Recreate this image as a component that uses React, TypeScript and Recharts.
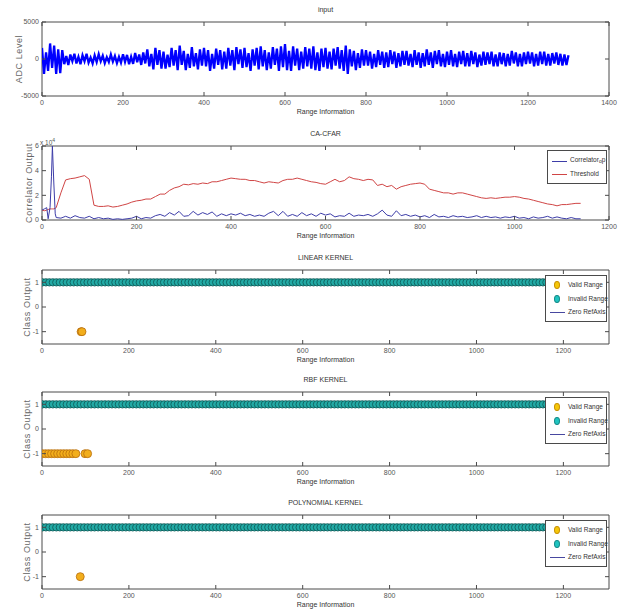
import React from 'react';
import {
  LineChart,
  ScatterChart,
  Line,
  Scatter,
  XAxis,
  YAxis,
  ReferenceArea,
} from 'recharts';

// ---- data ----

// raw ADC samples, one every 5 range bins
const inputStep = 5;
const inputSamples = [
  1500, -2000, 900, -1600, 2100, -1200, 1800, -2000, 1300, -1900,
  1200, -700, 400, -800, 600, -300, 700, -600, 300, -700,
  500, -300, 700, -500, 200, -600, 500, -400, 650, -300,
  450, -550, 250, -400, 600, -350, 400, -550, 300, -500,
  650, -400, 550, -700, 300, -650, 800, -450, 600, -800,
  900, -600, 1300, -1000, 700, -1400, 1500, -800, 1200, -1300,
  1000, -1300, 600, -1100, 1500, -900, 1200, -1500, 1800, -800,
  1100, -1500, 700, -1200, 1600, -1000, 800, -1400, 1300, -900,
  1500, -1000, 1200, -1600, 700, -1300, 1400, -800, 1200, -1400,
  1000, -1300, 1500, -900, 1200, -1500, 1600, -700, 1300, -1200,
  1500, -1100, 800, -1600, 1300, -900, 1500, -1400, 1700, -1000,
  1200, -1500, 900, -1300, 1600, -800, 1400, -1600, 1700, -1100,
  2000, -1500, 1100, -1600, 1700, -900, 1400, -1500, 1000, -1300,
  1600, -1000, 1400, -1300, 1700, -1500, 900, -1600, 1400, -1100,
  1500, -1300, 1000, -1400, 1400, -900, 1600, -1300, 1200, -1600,
  1800, -2000, 1300, -1000, 1100, -1500, 800, -1200, 1300, -900,
  1200, -900, 1000, -1300, 700, -1100, 1200, -800, 1000, -1200,
  900, -1100, 1200, -700, 1000, -1200, 800, -1000, 1100, -800,
  1100, -900, 700, -1100, 1200, -800, 900, -1200, 800, -1000,
  1300, -800, 900, -1200, 1100, -700, 1200, -1000, 700, -1100,
  1000, -800, 1200, -1000, 700, -1100, 1000, -700, 1100, -1000,
  800, -1000, 1100, -700, 900, -1100, 600, -900, 1000, -800,
  900, -700, 1000, -1000, 600, -1000, 900, -700, 800, -1000,
  700, -900, 1100, -600, 900, -1000, 700, -1000, 900, -700,
  1000, -600, 900, -1000, 700, -900, 1000, -700, 1000, -900,
  700, -900, 800, -600, 900, -800, 700, -900, 600, -800,
  500,
];

// CA-CFAR output (units of 1e4)
const cfarRange = [
  0, 5, 10, 13, 17, 20, 22, 25, 28, 30,
  40, 50, 60, 70, 80, 90, 100, 110, 120, 130,
  140, 150, 160, 170, 180, 190, 200, 210, 220, 230,
  240, 250, 260, 270, 280, 290, 300, 310, 320, 330,
  340, 350, 360, 370, 380, 390, 400, 410, 420, 430,
  440, 450, 460, 470, 480, 490, 500, 510, 520, 530,
  540, 550, 560, 570, 580, 590, 600, 610, 620, 630,
  640, 650, 660, 670, 680, 690, 700, 710, 720, 730,
  740, 750, 760, 770, 780, 790, 800, 810, 820, 830,
  840, 850, 860, 870, 880, 890, 900, 910, 920, 930,
  940, 950, 960, 970, 980, 990, 1000, 1010, 1020, 1030,
  1040, 1050, 1060, 1070, 1080, 1090, 1100, 1110, 1120, 1130,
  1140,
];
const correlatorOut = [
  0.8, 0.9, 1.0, 0.1, 1.0, 3.5, 6.0, 3.0, 0.5, 0.2,
  0.15, 0.3, 0.15, 0.35, 0.2, 0.15, 0.3, 0.1, 0.2, 0.1,
  0.15, 0.05, 0.1, 0.05, 0.1, 0.15, 0.3, 0.1, 0.2, 0.15,
  0.35, 0.45, 0.3, 0.6, 0.4, 0.7, 0.3, 0.35, 0.7, 0.4,
  0.6, 0.45, 0.65, 0.3, 0.5, 0.35, 0.5, 0.4, 0.55, 0.35,
  0.45, 0.3, 0.4, 0.3, 0.55, 0.7, 0.35, 0.7, 0.3, 0.45,
  0.3, 0.6, 0.35, 0.5, 0.3, 0.55, 0.4, 0.5, 0.25, 0.35,
  0.3, 0.55, 0.3, 0.4, 0.35, 0.45, 0.3, 0.5, 0.8, 0.4,
  0.3, 0.75, 0.35, 0.45, 0.3, 0.4, 0.25, 0.35, 0.2, 0.45,
  0.25, 0.3, 0.2, 0.35, 0.25, 0.3, 0.2, 0.25, 0.35, 0.2,
  0.3, 0.2, 0.25, 0.15, 0.25, 0.2, 0.3, 0.15, 0.2, 0.1,
  0.25, 0.15, 0.2, 0.3, 0.15, 0.25, 0.15, 0.1, 0.2, 0.1,
  0.1,
];
const thresholdOut = [
  0.8, 0.75, 0.8, 0.85, 0.9, 0.9, 0.9, 0.9, 0.95, 1.0,
  2.2, 3.25, 3.35, 3.4, 3.5, 3.6, 3.3, 1.2, 1.1, 1.1,
  1.15, 1.05, 1.1, 1.2, 1.3, 1.45, 1.55, 1.6, 1.7, 1.7,
  1.9, 2.1, 2.1, 2.4, 2.6, 2.7, 2.9, 2.85, 2.95, 2.9,
  3.0, 2.95, 3.1, 3.1, 3.2, 3.3, 3.4, 3.35, 3.3, 3.3,
  3.2, 3.2, 3.1, 3.0, 3.1, 3.05, 3.0, 3.2, 3.3, 3.3,
  3.4, 3.3, 3.2, 3.1, 3.05, 2.95, 2.9, 3.1, 3.3, 3.1,
  3.2, 3.5, 3.35, 3.3, 3.2, 3.3, 3.25, 2.8, 2.9, 2.7,
  2.8, 2.5, 2.7, 2.8, 2.9, 2.95, 3.0, 2.9, 2.5, 2.4,
  2.3, 2.2, 2.2, 2.1, 2.2, 2.2, 2.1, 2.0, 1.9, 1.8,
  1.75, 1.8, 1.75, 1.8, 1.85, 1.85, 1.9, 1.85, 1.75, 1.7,
  1.6, 1.5, 1.4, 1.3, 1.25, 1.15, 1.25, 1.25, 1.3, 1.35,
  1.35,
];

// classifier outputs
const invalidClass = 1;
const validClass = -1;
const invalidFirstBin = 1;
const invalidLastBin = 1165;
const binStep = 8;
const linearValidBins = [90, 92];
const rbfValidBins = [1, 8, 15, 22, 29, 36, 43, 50, 57, 64, 71, 78, 99, 105];
const polyValidBins = [88];

// ticks
const inputTicks = [0, 200, 400, 600, 800, 1000, 1200, 1400];
const cfarTicks = [0, 200, 400, 600, 800, 1000, 1200];
const kernelTicks = [0, 200, 400, 600, 800, 1000, 1200];
const adcTicks = [-5000, 0, 5000];
const corrTicks = [0, 2, 4, 6];
const classTicks = [-1, 0, 1];

// ---- layout ----
const W = 626;
const MT = 6;
const PLOT_H = 74;
const PLOT_W = 567;
const PLOT_L = 42;
const X_AX_H = 14;
const X_MARGIN = 4;
const Y_MARGIN = 3;
const TICK_IN = 4;
const CHART_H = MT + PLOT_H + X_AX_H;
const MARGIN = { top: MT, right: W - PLOT_L - PLOT_W, left: 12, bottom: 0 };
const panelTops = [22, 146, 270, 392, 515];

const FONT = '"Liberation Sans", Arial, sans-serif';
const AXIS = '#4a4a4a';
const TXT = '#555';

const inputData = inputSamples.map((v, i) => ({ range: i * inputStep, adc: v }));
const cfarData = cfarRange.map((r, i) => ({
  range: r,
  correlator: correlatorOut[i],
  threshold: thresholdOut[i],
}));

const invalidBins: number[] = [];
for (let b = invalidFirstBin; b <= invalidLastBin; b += binStep) invalidBins.push(b);
const invalidData = invalidBins.map((b) => ({ range: b, cls: invalidClass }));
const toValid = (bins: number[]) => bins.map((b) => ({ range: b, cls: validClass }));

const XTick = (props: any) => {
  const { x, y, payload } = props;
  const base = y - X_MARGIN;
  return (
    <g>
      <line x1={x} x2={x} y1={base} y2={base - TICK_IN} stroke={AXIS} />
      <line x1={x} x2={x} y1={base - PLOT_H} y2={base - PLOT_H + TICK_IN} stroke={AXIS} />
      <text x={x} y={y} dy="0.71em" textAnchor="middle" fontSize={7} fontFamily={FONT} fill={TXT}>
        {payload.value}
      </text>
    </g>
  );
};

const YTick = (props: any) => {
  const { x, y, payload } = props;
  const base = x + Y_MARGIN;
  return (
    <g>
      <line x1={base} x2={base + TICK_IN} y1={y} y2={y} stroke={AXIS} />
      <line x1={base + PLOT_W - TICK_IN} x2={base + PLOT_W} y1={y} y2={y} stroke={AXIS} />
      <text x={x} y={y} dy="0.355em" textAnchor="end" fontSize={7} fontFamily={FONT} fill={TXT}>
        {payload.value}
      </text>
    </g>
  );
};

const InvalidDot = (props: any) => (
  <circle cx={props.cx} cy={props.cy} r={3.7} fill="#22aaa5" stroke="#0d5553" strokeWidth={0.8} />
);
const ValidDot = (props: any) => (
  <circle cx={props.cx} cy={props.cy} r={4} fill="#f2ae1c" stroke="#b86d0e" strokeWidth={0.8} />
);

const Title = ({ top, text }: { top: number; text: string }) => (
  <div
    style={{
      position: 'absolute', left: PLOT_L, width: PLOT_W, top: top - 18, height: 12,
      textAlign: 'center', fontSize: 7, lineHeight: '12px', fontFamily: FONT, color: '#333',
    }}
  >
    {text}
  </div>
);

const XLabel = ({ top }: { top: number }) => (
  <div
    style={{
      position: 'absolute', left: PLOT_L, width: PLOT_W, top: top + PLOT_H + 10, height: 12,
      textAlign: 'center', fontSize: 7, lineHeight: '12px', fontFamily: FONT, color: '#333',
    }}
  >
    Range Information
  </div>
);

const YLabel = ({ top, cx, text }: { top: number; cx: number; text: string }) => (
  <div
    style={{
      position: 'absolute', left: cx - 50, top: top + PLOT_H / 2 - 6, width: 100, height: 12,
      textAlign: 'center', fontSize: 9, lineHeight: '12px', fontFamily: FONT, color: '#666',
      letterSpacing: 0.6, transform: 'rotate(-90deg)',
    }}
  >
    {text}
  </div>
);

const legendText: React.CSSProperties = {
  position: 'absolute', left: 22, fontSize: 6.5, lineHeight: '10px', fontFamily: FONT, color: '#333',
  whiteSpace: 'nowrap',
};

const CfarLegend = ({ top }: { top: number }) => (
  <div
    style={{
      position: 'absolute', left: 547, top: top + 4, width: 60, height: 34,
      border: `1px solid ${AXIS}`, background: '#fff', boxSizing: 'border-box',
    }}
  >
    <div style={{ position: 'absolute', left: 4, top: 10, width: 15, height: 1, background: '#3d3da8' }} />
    <div style={{ ...legendText, top: 4 }}>
      Correlator<sub style={{ fontSize: 5, verticalAlign: -1 }}>o</sub>p
    </div>
    <div style={{ position: 'absolute', left: 4, top: 23, width: 15, height: 1, background: '#d04545' }} />
    <div style={{ ...legendText, top: 18 }}>Threshold</div>
  </div>
);

const KernelLegend = ({ top }: { top: number }) => (
  <div
    style={{
      position: 'absolute', left: 545, top: top + 5, width: 62, height: 47,
      border: `1px solid ${AXIS}`, background: '#fff', boxSizing: 'border-box',
    }}
  >
    <div
      style={{
        position: 'absolute', left: 8, top: 5, width: 6, height: 8, borderRadius: '50%',
        background: '#f5c70a', border: '1px solid #c89000', boxSizing: 'border-box',
      }}
    />
    <div style={{ ...legendText, top: 4 }}>Valid Range</div>
    <div
      style={{
        position: 'absolute', left: 8, top: 19, width: 6, height: 8, borderRadius: '50%',
        background: '#20c4c0', border: '1px solid #138a88', boxSizing: 'border-box',
      }}
    />
    <div style={{ ...legendText, top: 18 }}>Invalid Range</div>
    <div style={{ position: 'absolute', left: 4, top: 36, width: 15, height: 1, background: '#4848a0' }} />
    <div style={{ ...legendText, top: 31 }}>Zero RefAxis</div>
  </div>
);

const KernelPanel = ({ top, title, valid }: { top: number; title: string; valid: number[] }) => (
  <>
    <Title top={top} text={title} />
    <div style={{ position: 'absolute', left: 0, top: top - MT }}>
      <ScatterChart width={W} height={CHART_H} margin={MARGIN}>
        <XAxis
          type="number" dataKey="range" domain={[0, 1305]} ticks={kernelTicks} interval={0}
          allowDataOverflow axisLine={false} tickLine={false} tickSize={0} tickMargin={X_MARGIN}
          height={X_AX_H} tick={<XTick />}
        />
        <YAxis
          type="number" dataKey="cls" domain={[-1.5, 1.5]} ticks={classTicks} interval={0}
          allowDataOverflow axisLine={false} tickLine={false} tickSize={0} tickMargin={Y_MARGIN}
          width={30} tick={<YTick />}
        />
        <ReferenceArea x1={0} x2={1305} y1={-1.5} y2={1.5} fill="none" stroke={AXIS} strokeWidth={1} />
        <Scatter data={invalidData} shape={<InvalidDot />} isAnimationActive={false} />
        <Scatter data={toValid(valid)} shape={<ValidDot />} isAnimationActive={false} />
      </ScatterChart>
    </div>
    <YLabel top={top} cx={27} text="Class Output" />
    <XLabel top={top} />
    <KernelLegend top={top} />
  </>
);

export default function App() {
  const [p1, p2, p3, p4, p5] = panelTops;
  return (
    <div style={{ position: 'absolute', left: 0, top: 0, width: W, height: 616, background: '#fff' }}>
      {/* input */}
      <Title top={p1} text="input" />
      <div style={{ position: 'absolute', left: 0, top: p1 - MT }}>
        <LineChart width={W} height={CHART_H} data={inputData} margin={MARGIN}>
          <XAxis
            type="number" dataKey="range" domain={[0, 1400]} ticks={inputTicks} interval={0}
            allowDataOverflow axisLine={false} tickLine={false} tickSize={0} tickMargin={X_MARGIN}
            height={X_AX_H} tick={<XTick />}
          />
          <YAxis
            type="number" domain={[-5000, 5000]} ticks={adcTicks} interval={0}
            allowDataOverflow axisLine={false} tickLine={false} tickSize={0} tickMargin={Y_MARGIN}
            width={30} tick={<YTick />}
          />
          <ReferenceArea x1={0} x2={1400} y1={-5000} y2={5000} fill="none" stroke={AXIS} strokeWidth={1} />
          <Line type="linear" dataKey="adc" stroke="#0000ff" strokeWidth={2.3} dot={false} isAnimationActive={false} />
        </LineChart>
      </div>
      <YLabel top={p1} cx={19} text="ADC Level" />
      <XLabel top={p1} />

      {/* CA-CFAR */}
      <Title top={p2} text="CA-CFAR" />
      <div style={{ position: 'absolute', left: 0, top: p2 - MT }}>
        <LineChart width={W} height={CHART_H} data={cfarData} margin={MARGIN}>
          <XAxis
            type="number" dataKey="range" domain={[0, 1200]} ticks={cfarTicks} interval={0}
            allowDataOverflow axisLine={false} tickLine={false} tickSize={0} tickMargin={X_MARGIN}
            height={X_AX_H} tick={<XTick />}
          />
          <YAxis
            type="number" domain={[0, 6]} ticks={corrTicks} interval={0}
            allowDataOverflow axisLine={false} tickLine={false} tickSize={0} tickMargin={Y_MARGIN}
            width={30} tick={<YTick />}
          />
          <ReferenceArea x1={0} x2={1200} y1={0} y2={6} fill="none" stroke={AXIS} strokeWidth={1} />
          <Line type="linear" dataKey="threshold" stroke="#d04545" strokeWidth={1} dot={false} isAnimationActive={false} />
          <Line type="linear" dataKey="correlator" stroke="#3d3da8" strokeWidth={1} dot={false} isAnimationActive={false} />
        </LineChart>
      </div>
      <div
        style={{
          position: 'absolute', left: 40, top: p2 - 11, fontSize: 6.5, fontFamily: FONT, color: TXT,
          lineHeight: '10px',
        }}
      >
        x 10<sup style={{ fontSize: 5 }}>4</sup>
      </div>
      <YLabel top={p2} cx={29} text="Correlator Output" />
      <XLabel top={p2} />
      <CfarLegend top={p2} />

      <KernelPanel top={p3} title="LINEAR KERNEL" valid={linearValidBins} />
      <KernelPanel top={p4} title="RBF KERNEL" valid={rbfValidBins} />
      <KernelPanel top={p5} title="POLYNOMIAL KERNEL" valid={polyValidBins} />
    </div>
  );
}
